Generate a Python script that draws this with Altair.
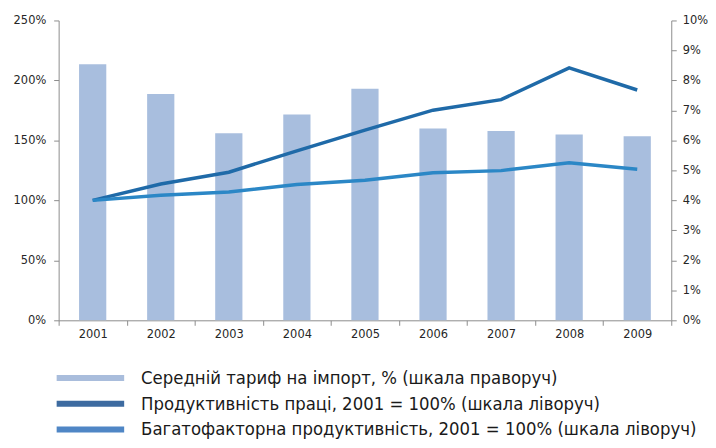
import altair as alt
import pandas as pd

years = ["2001", "2002", "2003", "2004", "2005", "2006", "2007", "2008", "2009"]
tariff = [8.54, 7.55, 6.24, 6.86, 7.72, 6.40, 6.31, 6.20, 6.14]
labor = [100, 113.6, 123.5, 141.3, 158.5, 175.2, 184.0, 210.4, 192.0]
mfp = [100, 104.2, 107.0, 113.3, 116.8, 123.0, 124.8, 131.4, 126.0]

series_names = [
    "Середній тариф на імпорт, % (шкала праворуч)",
    "Продуктивність праці, 2001 = 100% (шкала ліворуч)",
    "Багатофакторна продуктивність, 2001 = 100% (шкала ліворуч)",
]
legend_colors = ["#a9bddc", "#3d6ba0", "#4f86c5"]
line_colors = ["#1f6aa8", "#2b87c6"]

df = pd.DataFrame({"year": years, "tariff": tariff, "labor": labor, "mfp": mfp})

axis_common = dict(
    labelFont="DejaVu Sans",
    labelFontSize=11.5,
    labelColor="#262626",
    domainColor="#8c8c8c",
    tickColor="#8c8c8c",
    tickSize=5,
    grid=False,
    title=None,
)

base = alt.Chart(df).encode(
    x=alt.X(
        "year:O",
        sort=years,
        scale=alt.Scale(paddingInner=0, paddingOuter=0),
        axis=alt.Axis(labelAngle=0, tickBand="extent", labelPadding=3, **axis_common),
    )
)

bars = base.mark_bar(width=alt.RelativeBandSize(0.4), color="#a8bede").encode(
    y=alt.Y(
        "tariff:Q",
        scale=alt.Scale(domain=[0, 10], nice=False),
        axis=alt.Axis(
            orient="right",
            values=list(range(0, 11)),
            labelExpr="datum.value + '%'",
            labelPadding=6,
            **axis_common,
        ),
    )
)

lines = (
    base.transform_fold(["labor", "mfp"], as_=["series", "value"])
    .mark_line(strokeWidth=3.5)
    .encode(
        y=alt.Y(
            "value:Q",
            scale=alt.Scale(domain=[0, 250], nice=False),
            axis=alt.Axis(
                orient="left",
                values=[0, 50, 100, 150, 200, 250],
                labelExpr="datum.value + '%'",
                labelPadding=8,
                **axis_common,
            ),
        ),
        color=alt.Color(
            "series:N",
            scale=alt.Scale(domain=["labor", "mfp"], range=line_colors),
            legend=None,
        ),
    )
)

main = alt.layer(bars, lines).resolve_scale(y="independent", color="independent").properties(
    width=617, height=302
)

leg_df = pd.DataFrame({"name": series_names, "col": legend_colors})
leg_base = alt.Chart(leg_df).encode(
    y=alt.Y("name:N", sort=series_names, axis=None, scale=alt.Scale(type="point", padding=0))
)
leg_rule = leg_base.mark_rule(strokeWidth=6).encode(
    x=alt.value(-2),
    x2=alt.value(66),
    color=alt.Color("col:N", scale=None, legend=None),
)
leg_text = leg_base.mark_text(
    align="left",
    baseline="middle",
    font="DejaVu Sans Condensed, DejaVu Sans",
    fontSize=18.5,
    color="#1a1a1a",
).encode(x=alt.value(83), text="name:N")

legend = alt.layer(leg_rule, leg_text).properties(width=617, height=52)

chart = (
    alt.vconcat(main, legend, spacing=29)
    .properties(padding={"left": 5, "top": 5, "right": 0, "bottom": 0})
    .configure_view(stroke=None)
)

chart.save("out.html", embed_options={"renderer": "svg", "actions": False})
